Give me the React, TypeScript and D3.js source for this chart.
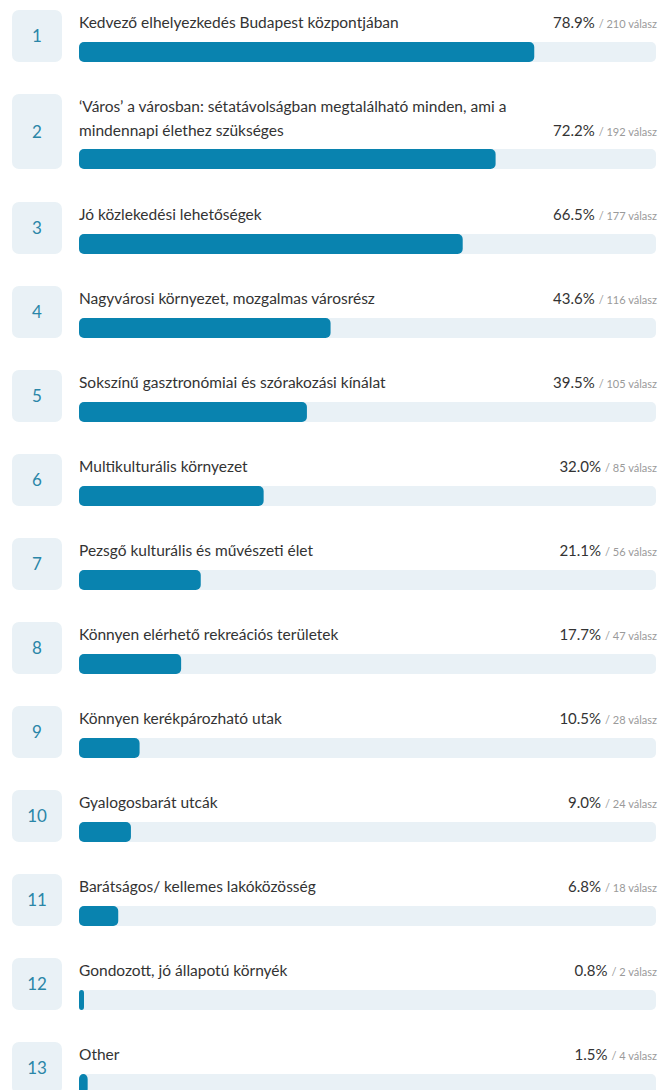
import React from "react";
import * as d3 from "d3";

const categories: string[] = [
  "Kedvező elhelyezkedés Budapest központjában",
  "‘Város’ a városban: sétatávolságban megtalálható minden, ami a mindennapi élethez szükséges",
  "Jó közlekedési lehetőségek",
  "Nagyvárosi környezet, mozgalmas városrész",
  "Sokszínű gasztronómiai és szórakozási kínálat",
  "Multikulturális környezet",
  "Pezsgő kulturális és művészeti élet",
  "Könnyen elérhető rekreációs területek",
  "Könnyen kerékpározható utak",
  "Gyalogosbarát utcák",
  "Barátságos/ kellemes lakóközösség",
  "Gondozott, jó állapotú környék",
  "Other",
];
const percents: number[] = [78.9, 72.2, 66.5, 43.6, 39.5, 32.0, 21.1, 17.7, 10.5, 9.0, 6.8, 0.8, 1.5];
const counts: number[] = [210, 192, 177, 116, 105, 85, 56, 47, 28, 24, 18, 2, 4];
const answerWord = "válasz";

const W = 659;
const H = 1090;
const FONT = "Lato, 'Noto Sans', sans-serif";
const LABEL_SIZE = 15.5;
const LABEL_MAX = 440;

function measureCtx() {
  const c = document.createElement("canvas");
  const ctx = c.getContext("2d")!;
  ctx.font = `${LABEL_SIZE}px Lato`;
  return ctx;
}

function wrap(text: string, ctx: CanvasRenderingContext2D): string[] {
  const words = text.split(" ");
  const lines: string[] = [];
  let cur = "";
  for (const w of words) {
    const t = cur ? cur + " " + w : w;
    if (ctx.measureText(t).width > LABEL_MAX && cur) {
      lines.push(cur);
      cur = w;
    } else cur = t;
  }
  if (cur) lines.push(cur);
  return lines;
}

export default function App() {
  const ctx = measureCtx();
  const trackX = 79;
  const trackRight = 656;
  const x = d3.scaleLinear().domain([0, 100]).range([0, trackRight - trackX]);
  const lineH = 24;
  const baseH = 52;
  const gap = 32;
  const barH = 20;

  let y = 10;
  const rows = categories.map((c, i) => {
    const lines = wrap(c, ctx);
    const h = baseH + (lines.length - 1) * (lineH - 1);
    const r = { i, lines, top: y, h };
    y += h + gap + (lines.length - 1) * 1;
    return r;
  });

  return (
    <svg
      width={W}
      height={H}
      style={{ position: "absolute", left: 0, top: 0, background: "#fff" }}
      fontFamily={FONT}
    >
      {rows.map((r) => {
        const barTop = r.top + r.h - barH;
        const lastBase = r.top + 18 + (r.lines.length - 1) * lineH;
        return (
          <g key={r.i}>
            <rect x={12} y={r.top} width={50} height={r.h} rx={7} fill="#e9f1f6" />
            <text
              x={37}
              y={r.top + r.h / 2 + 6}
              textAnchor="middle"
              fontSize={17}
              fill="#2a86a8"
            >
              {r.i + 1}
            </text>
            {r.lines.map((l, k) => (
              <text key={k} x={trackX} y={r.top + 18 + k * lineH} fontSize={LABEL_SIZE} fill="#333">
                {l}
              </text>
            ))}
            <text x={trackRight + 1} y={lastBase} textAnchor="end" fill="#333" fontSize={15}>
              {percents[r.i].toFixed(1) + "%"}
              <tspan fontSize={11} fill="#9a9a9a" dx={4}>
                {`/ ${counts[r.i]} ${answerWord}`}
              </tspan>
            </text>
            <rect x={trackX} y={barTop} width={x(100)} height={barH} rx={5} fill="#e9f1f6" />
            <rect
              x={trackX}
              y={barTop}
              width={Math.max(x(percents[r.i]), 5)}
              height={barH}
              rx={Math.min(5, x(percents[r.i]) / 2 + 1)}
              fill="#0983af"
            />
          </g>
        );
      })}
    </svg>
  );
}
